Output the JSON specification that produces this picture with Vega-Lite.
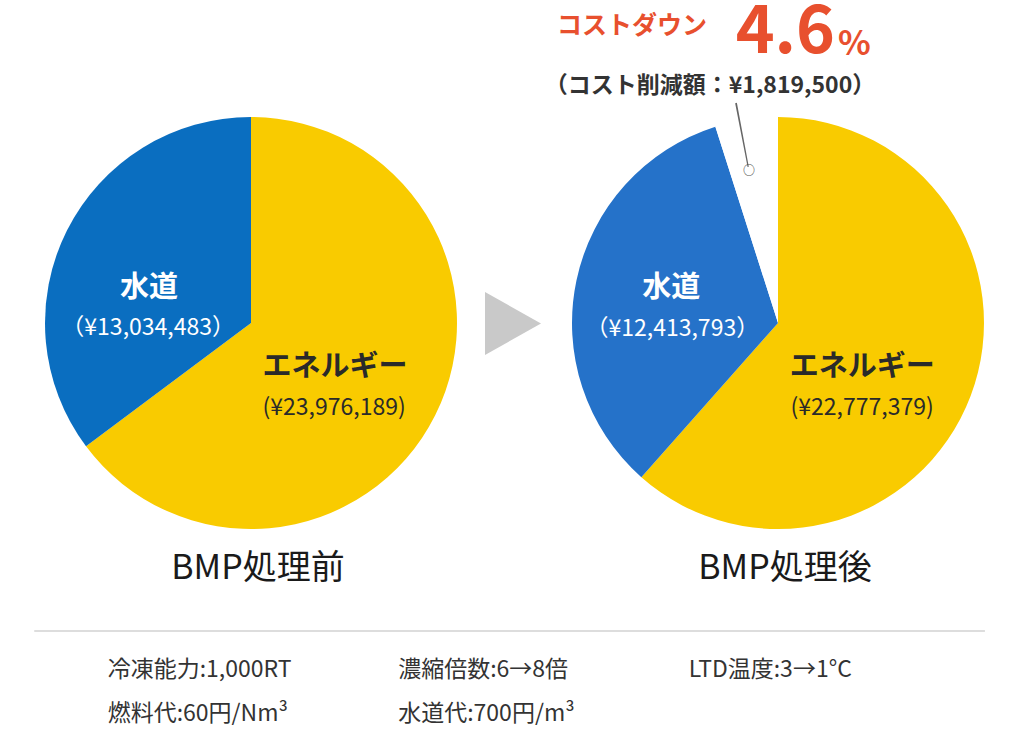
{
  "$schema": "https://vega.github.io/schema/vega-lite/v6.json",
  "padding": {"top": 0, "left": 0, "right": 0, "bottom": 0},
  "background": "white",
  "config": {
    "view": {"stroke": null},
    "font": "Noto Sans CJK JP",
    "text": {"font": "Noto Sans CJK JP"},
    "title": {"font": "Noto Sans CJK JP"}
  },
  "spacing": 44,
  "center": true,
  "vconcat": [
    {
      "bounds": "flush",
      "spacing": 0,
      "resolve": {"scale": {"color": "independent", "theta": "independent"}},
      "hconcat": [
        {
          "width": 502,
          "height": 440,
          "data": {"values": [
            {"item": "エネルギー", "value": 23976189, "amount": "(¥23,976,189)"},
            {"item": "水道", "value": 13034483, "amount": "（¥13,034,483）"}
          ]},
          "title": {"text": "BMP処理前", "orient": "bottom", "offset": 9, "fontSize": 34, "fontWeight": "normal", "color": "#1a1a1a", "frame": "group", "dx": 7},
          "encoding": {
            "theta": {"field": "value", "type": "quantitative", "stack": true},
            "order": {"field": "value", "type": "quantitative", "sort": "descending"}
          },
          "layer": [
            {
              "mark": {"type": "arc", "outerRadius": 206},
              "encoding": {"color": {"field": "item", "type": "nominal", "scale": {"domain": ["エネルギー", "水道"], "range": ["#F9CB00", "#0A6EC0"]}, "legend": null}}
            },
            {
              "mark": {"type": "text", "radius": 114, "dy": 16, "fontSize": 29, "fontWeight": "bold", "fill": "white"},
              "encoding": {"detail": {"field": "item"}, "text": {"field": "item", "type": "nominal", "condition": {"test": "datum.item !== '水道'", "value": ""}}}
            },
            {
              "mark": {"type": "text", "radius": 115, "dy": 57, "fontSize": 23, "fill": "white"},
              "encoding": {"detail": {"field": "item"}, "text": {"field": "amount", "type": "nominal", "condition": {"test": "datum.item !== '水道'", "value": ""}}}
            },
            {
              "mark": {"type": "text", "radius": 94, "dy": 2, "fontSize": 29, "fontWeight": "bold", "fill": "#2a2a2a"},
              "encoding": {"detail": {"field": "item"}, "text": {"field": "item", "type": "nominal", "condition": {"test": "datum.item !== 'エネルギー'", "value": ""}}}
            },
            {
              "mark": {"type": "text", "radius": 93, "dy": 43, "fontSize": 23, "fill": "#2a2a2a"},
              "encoding": {"detail": {"field": "item"}, "text": {"field": "amount", "type": "nominal", "condition": {"test": "datum.item !== 'エネルギー'", "value": ""}}}
            }
          ]
        },
        {
          "width": 34,
          "height": 440,
          "data": {"values": [{"item": "arrow"}]},
          "mark": {"type": "point", "shape": "M-1.133,-1.033L0.733,0.017L-1.133,1.067Z", "size": 3600, "filled": true, "color": "#C9C9C9", "opacity": 1, "strokeWidth": 0},
          "encoding": {}
        },
        {
          "width": 484,
          "height": 440,
          "data": {"values": [
            {"item": "エネルギー", "value": 22777379, "amount": "(¥22,777,379)"},
            {"item": "水道", "value": 12413793, "amount": "（¥12,413,793）"},
            {"item": "削減額", "value": 1819500, "amount": "（¥1,819,500）"}
          ]},
          "title": {"text": "BMP処理後", "orient": "bottom", "offset": 9, "fontSize": 34, "fontWeight": "normal", "color": "#1a1a1a", "frame": "group", "dx": 7},
          "layer": [
            {
              "mark": {"type": "arc", "outerRadius": 206},
              "encoding": {
                "theta": {"field": "value", "type": "quantitative", "stack": true},
                "order": {"field": "value", "type": "quantitative", "sort": "descending"},
                "color": {"field": "item", "type": "nominal", "scale": {"domain": ["エネルギー", "水道", "削減額"], "range": ["#F9CB00", "#2572C9", "#FFFFFF"]}, "legend": null}
              }
            },
            {
              "mark": {"type": "text", "radius": 109, "dy": -12, "fontSize": 29, "fontWeight": "bold", "fill": "white"},
              "encoding": {
                "theta": {"field": "value", "type": "quantitative", "stack": true},
                "order": {"field": "value", "type": "quantitative", "sort": "descending"},
                "detail": {"field": "item"},
                "text": {"field": "item", "type": "nominal", "condition": {"test": "datum.item !== '水道'", "value": ""}}
              }
            },
            {
              "mark": {"type": "text", "radius": 108, "dy": 28, "fontSize": 23, "fill": "white"},
              "encoding": {
                "theta": {"field": "value", "type": "quantitative", "stack": true},
                "order": {"field": "value", "type": "quantitative", "sort": "descending"},
                "detail": {"field": "item"},
                "text": {"field": "amount", "type": "nominal", "condition": {"test": "datum.item !== '水道'", "value": ""}}
              }
            },
            {
              "mark": {"type": "text", "radius": 90, "dy": 12, "fontSize": 29, "fontWeight": "bold", "fill": "#2a2a2a"},
              "encoding": {
                "theta": {"field": "value", "type": "quantitative", "stack": true},
                "order": {"field": "value", "type": "quantitative", "sort": "descending"},
                "detail": {"field": "item"},
                "text": {"field": "item", "type": "nominal", "condition": {"test": "datum.item !== 'エネルギー'", "value": ""}}
              }
            },
            {
              "mark": {"type": "text", "radius": 90, "dy": 53, "fontSize": 23, "fill": "#2a2a2a"},
              "encoding": {
                "theta": {"field": "value", "type": "quantitative", "stack": true},
                "order": {"field": "value", "type": "quantitative", "sort": "descending"},
                "detail": {"field": "item"},
                "text": {"field": "amount", "type": "nominal", "condition": {"test": "datum.item !== 'エネルギー'", "value": ""}}
              }
            },
            {
              "transform": [{"filter": "datum.item === '削減額'"}],
              "mark": {"type": "arc", "radius": 224, "radius2": 159, "color": "#666666"},
              "encoding": {"theta": {"datum": 35877000}, "theta2": {"datum": 35923000}}
            },
            {
              "transform": [{"filter": "datum.item === '削減額'"}],
              "mark": {"type": "text", "text": "○", "radius": 155, "fontSize": 12, "fontWeight": "bold", "fill": "#555555"},
              "encoding": {"theta": {"datum": 35899000}}
            },
            {
              "transform": [{"filter": "datum.item === '削減額'"}],
              "mark": {"type": "text", "text": "コストダウン", "radius": 297, "dx": -146, "fontSize": 25, "fontWeight": "bold", "fill": "#E8502E"},
              "encoding": {"theta": {"datum": 0}}
            },
            {
              "transform": [{"filter": "datum.item === '削減額'"}],
              "mark": {"type": "text", "text": "4.6", "radius": 270, "dx": 57, "align": "right", "baseline": "alphabetic", "fontSize": 66, "fontWeight": "bold", "fill": "#E8502E"},
              "encoding": {"theta": {"datum": 0}}
            },
            {
              "transform": [{"filter": "datum.item === '削減額'"}],
              "mark": {"type": "text", "text": "%", "radius": 268, "dx": 60, "align": "left", "baseline": "alphabetic", "fontSize": 34, "fontWeight": "bold", "fill": "#E8502E"},
              "encoding": {"theta": {"datum": 0}}
            },
            {
              "transform": [{"filter": "datum.item === '削減額'"}],
              "mark": {"type": "text", "text": "（コスト削減額：¥1,819,500）", "radius": 237, "dx": -68, "fontSize": 23, "fontWeight": "bold", "fill": "#333333"},
              "encoding": {"theta": {"datum": 0}}
            }
          ]
        }
      ]
    },
    {
      "width": 950,
      "height": 122,
      "data": {"values": [
        {"row": 1, "col": 1, "text": "冷凍能力:1,000RT"},
        {"row": 1, "col": 2, "text": "濃縮倍数:6→8倍"},
        {"row": 1, "col": 3, "text": "LTD温度:3→1°C"},
        {"row": 2, "col": 1, "text": "燃料代:60円/Nm³"},
        {"row": 2, "col": 2, "text": "水道代:700円/m³"}
      ]},
      "layer": [
        {
          "mark": {"type": "rule", "color": "#DDDDDD", "strokeWidth": 1.5},
          "encoding": {"y": {"value": 0}}
        },
        {
          "mark": {"type": "text", "align": "left", "fontSize": 23, "fill": "#333333"},
          "encoding": {
            "x": {"field": "col", "type": "ordinal", "axis": null, "scale": {"type": "point", "padding": 0.635, "align": 0.198}},
            "y": {"field": "row", "type": "ordinal", "axis": null, "scale": {"type": "point", "padding": 0.886}},
            "text": {"field": "text"}
          }
        }
      ]
    }
  ]
}
